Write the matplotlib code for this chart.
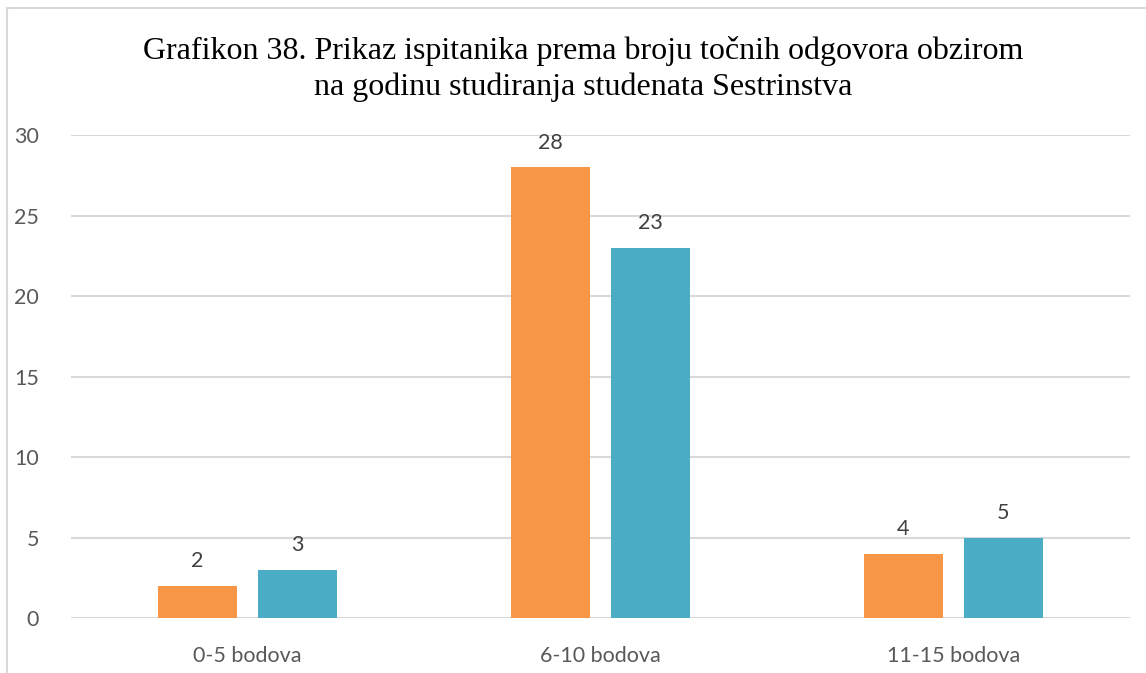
import numpy as np
import matplotlib
matplotlib.use('Agg')
from matplotlib import pyplot as plt
from matplotlib.patches import Rectangle

# podaci
categories = ['0-5 bodova', '6-10 bodova', '11-15 bodova']
series_a = [2, 28, 4]
series_b = [3, 23, 5]
yticks = [0, 5, 10, 15, 20, 25, 30]

orange = '#F79646'
blue = '#4BACC6'
txt = '#595959'
grid = '#D9D9D9'

fig = plt.figure(figsize=(11.46, 6.73), dpi=100)
ax = fig.add_axes([0.062, 0.0817, 0.924, 0.7177])

x = np.arange(len(categories))
w = 0.224
off = 0.1416
b1 = ax.bar(x - off, series_a, w, color=orange, zorder=3)
b2 = ax.bar(x + off, series_b, w, color=blue, zorder=3)

for bars in (b1, b2):
    for r in bars:
        ax.text(r.get_x() + r.get_width() / 2, r.get_height() + 0.9, str(int(r.get_height())),
                ha='center', va='bottom', fontsize=15.5, color='#404040', family='Lato')

ax.set_xlim(-0.5, 2.5)
ax.set_ylim(0, 30)
ax.set_yticks(yticks)
ax.set_yticklabels([str(t) for t in yticks], fontsize=15.5, color=txt, family='Lato')
ax.set_xticks(x)
ax.set_xticklabels(categories, fontsize=15.5, color=txt, family='Lato')
ax.tick_params(axis='x', length=0, pad=20)
ax.tick_params(axis='y', length=0, pad=23)
ax.grid(axis='y', color=grid, lw=1.5, zorder=0)
for s in ax.spines.values():
    s.set_visible(False)

fig.text(0.509, 0.897, 'Grafikon 38. Prikaz ispitanika prema broju točnih odgovora obzirom\nna godinu studiranja studenata Sestrinstva',
         ha='center', va='center', fontsize=23, family='Liberation Serif', linespacing=1.3)

fig.patches.append(Rectangle((7 / 1146, -0.1), 1.2, 1.1 - 8 / 673, transform=fig.transFigure,
                             fill=False, edgecolor=grid, lw=1.5))

fig.savefig('out.png', dpi=100)
